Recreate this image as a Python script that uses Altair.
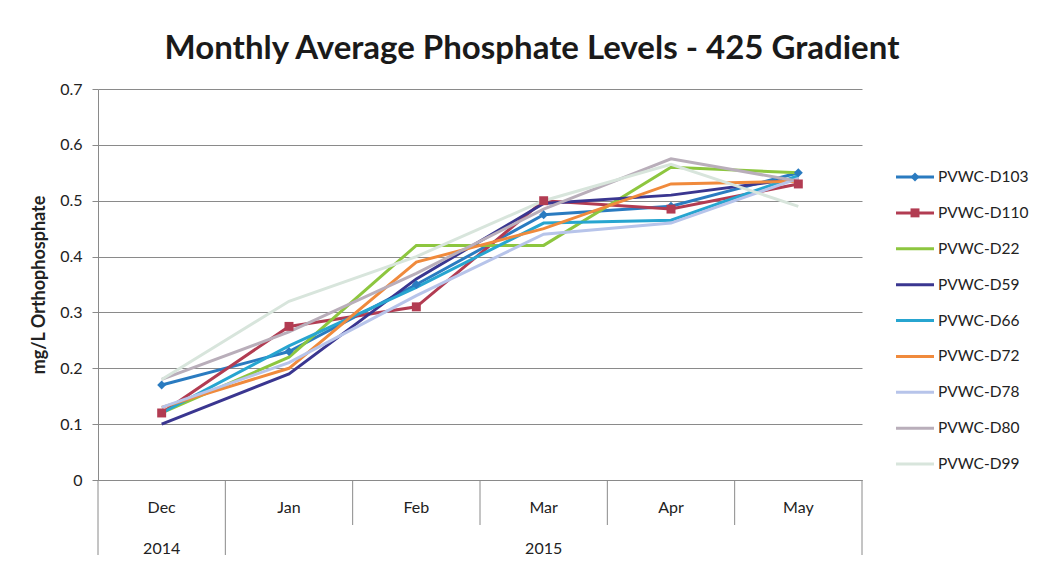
import altair as alt
import pandas as pd

months = ["Dec", "Jan", "Feb", "Mar", "Apr", "May"]
years = ["2014", "2015"]
year_anchor = ["Dec", "Mar"]
series = ["PVWC-D103", "PVWC-D110", "PVWC-D22", "PVWC-D59", "PVWC-D66",
          "PVWC-D72", "PVWC-D78", "PVWC-D80", "PVWC-D99"]
colors = ["#2A7BC0", "#B23C52", "#8DC63F", "#3A3690", "#27A5D0",
          "#F08A3C", "#B7C4EA", "#B9AEBA", "#D8E5DC"]

d103 = [0.17, 0.23, 0.35, 0.475, 0.49, 0.55]
d110 = [0.12, 0.275, 0.31, 0.50, 0.485, 0.53]
d22 = [0.12, 0.22, 0.42, 0.42, 0.56, 0.55]
d59 = [0.10, 0.19, 0.36, 0.495, 0.51, 0.54]
d66 = [0.12, 0.24, 0.345, 0.46, 0.465, 0.545]
d72 = [0.13, 0.20, 0.39, 0.45, 0.53, 0.535]
d78 = [0.13, 0.21, 0.33, 0.44, 0.46, 0.54]
d80 = [0.18, 0.265, 0.37, 0.485, 0.575, 0.535]
d99 = [0.18, 0.32, 0.40, 0.50, 0.565, 0.49]
values = [d103, d110, d22, d59, d66, d72, d78, d80, d99]

marker_series = ["PVWC-D103", "PVWC-D110"]
marker_shapes = ["diamond", "square"]

rows = []
for s, vals in zip(series, values):
    for m, v in zip(months, vals):
        rows.append({"series": s, "month": m, "value": v})
df = pd.DataFrame(rows)
legend_df = pd.DataFrame({"series": series})
year_df = pd.DataFrame({"year": years, "month": year_anchor})
sep_full = pd.DataFrame({"month": months[:2]})
sep_short = pd.DataFrame({"month": months[2:]})
sep_end = pd.DataFrame({"month": months[-1:]})

FONT = "Lato"
W, H = 764, 391
LABEL = 16

xscale = alt.Scale(type="band", domain=months, paddingInner=0, paddingOuter=0)
color = alt.Color("series:N", scale=alt.Scale(domain=series, range=colors), legend=None)
shape = alt.Shape("series:N", scale=alt.Scale(domain=marker_series, range=marker_shapes), legend=None)

x_main = alt.X("month:N", scale=xscale, bandPosition=0.5,
               axis=alt.Axis(title=None, ticks=False, labelPadding=19, labelFontSize=LABEL,
                             labelColor="#222", domainColor="#8a8a8a", labelAngle=0))
y_main = alt.Y("value:Q", scale=alt.Scale(domain=[0, 0.7]),
               axis=alt.Axis(title="mg/L Orthophosphate", values=[0, 0.1, 0.2, 0.3, 0.4, 0.5, 0.6, 0.7],
                             format=".1~f", grid=True, gridColor="#8a8a8a", gridWidth=1,
                             tickColor="#8a8a8a", tickSize=6, domainColor="#8a8a8a",
                             labelFontSize=LABEL, labelColor="#222", labelPadding=10,
                             titleFontSize=18, titleFontWeight="bold", titleColor="#222",
                             titlePadding=11))

lines = alt.Chart(df).mark_line(strokeWidth=3).encode(x=x_main, y=y_main, color=color)
markers = alt.Chart(df).mark_point(filled=True, size=80, opacity=1).encode(
    x=alt.X("month:N", scale=xscale, bandPosition=0.5),
    y=alt.Y("value:Q"),
    color=color, shape=shape,
).transform_filter(alt.FieldOneOfPredicate(field="series", oneOf=marker_series))

rule_color = "#8a8a8a"
seps_full = alt.Chart(sep_full).mark_rule(color=rule_color, strokeWidth=1).encode(
    x=alt.X("month:N", scale=xscale, bandPosition=0), y=alt.value(H), y2=alt.value(H + 75))
seps_short = alt.Chart(sep_short).mark_rule(color=rule_color, strokeWidth=1).encode(
    x=alt.X("month:N", scale=xscale, bandPosition=0), y=alt.value(H), y2=alt.value(H + 45))
seps_end = alt.Chart(sep_end).mark_rule(color=rule_color, strokeWidth=1).encode(
    x=alt.X("month:N", scale=xscale, bandPosition=1), y=alt.value(H), y2=alt.value(H + 75))
year_text = alt.Chart(year_df).mark_text(fontSize=LABEL, color="#222", font=FONT, baseline="middle").encode(
    x=alt.X("month:N", scale=xscale, bandPosition=0.5), y=alt.value(H + 69), text="year:N")

main = alt.layer(lines, markers, seps_full, seps_short, seps_end, year_text)

ly = alt.Y("series:N", scale=alt.Scale(type="point", domain=series, range=[88, 375], padding=0), axis=None)
leg_lines = alt.Chart(legend_df).mark_rule(strokeWidth=3).encode(
    x=alt.value(798), x2=alt.value(836), y=ly, color=color)
leg_marks = alt.Chart(legend_df).mark_point(filled=True, size=80, opacity=1).encode(
    x=alt.value(817), y=ly, color=color, shape=shape
).transform_filter(alt.FieldOneOfPredicate(field="series", oneOf=marker_series))
leg_text = alt.Chart(legend_df).mark_text(align="left", baseline="middle", fontSize=15.5,
                                          color="#222", font=FONT).encode(
    x=alt.value(840), y=ly, text="series:N")
legend = alt.layer(leg_lines, leg_marks, leg_text)

chart = alt.layer(main, legend).resolve_scale(y="independent").properties(
    width=W, height=H,
    title=alt.TitleParams("Monthly Average Phosphate Levels - 425 Gradient", fontSize=33,
                          fontWeight="bold", font=FONT, color="#1a1a1a", anchor="middle",
                          dx=52, offset=15),
    autosize=alt.AutoSizeParams(type="none"),
    padding={"left": 90, "top": 81, "right": 178, "bottom": 79},
).configure(font=FONT).configure_view(stroke=None)

chart.save("out.html", embed_options={"renderer": "svg", "actions": False})
